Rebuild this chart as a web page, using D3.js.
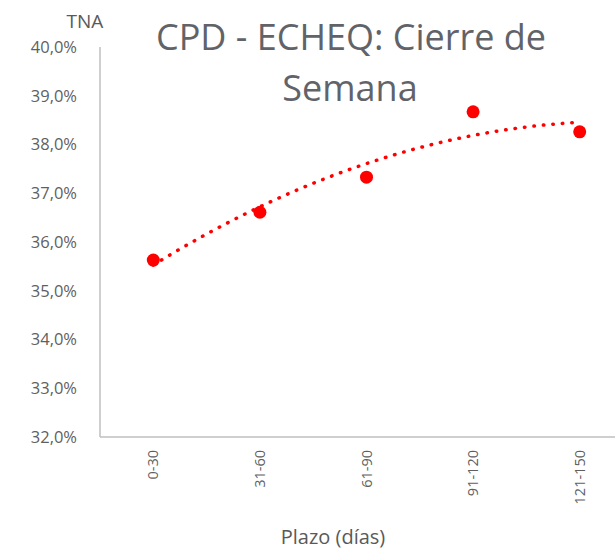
<!DOCTYPE html>
<html>
<head>
<meta charset="utf-8">
<script src="https://cdnjs.cloudflare.com/ajax/libs/d3/7.8.5/d3.min.js"></script>
<style>
  body { margin: 0; background: #fff; }
  svg { display: block; font-family: "Open Sans", sans-serif; }
</style>
</head>
<body>
<div id="chart"></div>
<script>
var plazos = ["0-30", "31-60", "61-90", "91-120", "121-150"];
var tna = [35.63, 36.61, 37.33, 38.67, 38.26];
var yTicks = [32, 33, 34, 35, 36, 37, 38, 39, 40];

var svgWidth = 615;
var svgHeight = 550;
var margin = { top: 47, left: 100, bottom: 113 };
var plotRight = 633;

var svg = d3.select("#chart")
  .append("svg")
  .attr("width", svgWidth)
  .attr("height", svgHeight);

var x = d3.scaleBand()
  .domain(plazos)
  .range([margin.left, plotRight]);

var y = d3.scaleLinear()
  .domain([32, 40])
  .range([svgHeight - margin.bottom, margin.top]);

// axis lines
svg.append("line")
  .attr("x1", margin.left).attr("x2", margin.left)
  .attr("y1", y(40)).attr("y2", y(32))
  .attr("stroke", "#bfbfbf").attr("stroke-width", 1.5);

svg.append("line")
  .attr("x1", margin.left).attr("x2", plotRight)
  .attr("y1", y(32)).attr("y2", y(32))
  .attr("stroke", "#bfbfbf").attr("stroke-width", 1.5);

// y tick labels
svg.selectAll(".ytick")
  .data(yTicks)
  .enter()
  .append("text")
  .attr("class", "ytick")
  .attr("x", 77)
  .attr("y", function(d) { return y(d); })
  .attr("dy", "0.35em")
  .attr("text-anchor", "end")
  .style("font-size", "16.5px")
  .style("fill", "#5f5f5f")
  .text(function(d) { return d3.format(".1f")(d).replace(".", ",") + "%"; });

// x tick labels, rotated
svg.selectAll(".xtick")
  .data(plazos)
  .enter()
  .append("text")
  .attr("class", "xtick")
  .attr("transform", function(d) {
    return "translate(" + (x(d) + x.bandwidth() / 2) + "," + 450 + ") rotate(-90)";
  })
  .attr("dy", "0.35em")
  .attr("text-anchor", "end")
  .style("font-size", "14.5px")
  .style("fill", "#5f5f5f")
  .text(function(d) { return d; });

// quadratic trend line (least squares on category index)
var n = tna.length;
var sx = [0, 0, 0, 0, 0], sxy = [0, 0, 0];
tna.forEach(function(v, i) {
  var t = i + 1;
  for (var k = 0; k < 5; k++) sx[k] += Math.pow(t, k);
  for (var k = 0; k < 3; k++) sxy[k] += v * Math.pow(t, k);
});
function det3(m) {
  return m[0][0] * (m[1][1] * m[2][2] - m[1][2] * m[2][1]) -
    m[0][1] * (m[1][0] * m[2][2] - m[1][2] * m[2][0]) +
    m[0][2] * (m[1][0] * m[2][1] - m[1][1] * m[2][0]);
}
var M = [[sx[0], sx[1], sx[2]], [sx[1], sx[2], sx[3]], [sx[2], sx[3], sx[4]]];
var D = det3(M);
var coef = [0, 1, 2].map(function(c) {
  var Mc = M.map(function(row, r) {
    return row.map(function(val, j) { return j === c ? sxy[r] : val; });
  });
  return det3(Mc) / D;
});
var trend = d3.range(1, n + 0.001, 0.05).map(function(t) {
  return { t: t, v: coef[0] + coef[1] * t + coef[2] * t * t };
});

var step = x.step();
var tx = function(t) { return x(plazos[0]) + x.bandwidth() / 2 + (t - 1) * step; };

svg.append("path")
  .datum(trend)
  .attr("fill", "none")
  .attr("stroke", "#ff0000")
  .attr("stroke-width", 3.5)
  .attr("stroke-linecap", "round")
  .attr("stroke-dasharray", "0.5 9")
  .attr("d", d3.line()
    .x(function(d) { return tx(d.t); })
    .y(function(d) { return y(d.v); }));

// markers
svg.selectAll(".dot")
  .data(tna)
  .enter()
  .append("circle")
  .attr("class", "dot")
  .attr("cx", function(d, i) { return x(plazos[i]) + x.bandwidth() / 2; })
  .attr("cy", function(d) { return y(d); })
  .attr("r", 6.5)
  .attr("fill", "#ff0000");

// titles
svg.append("text")
  .attr("x", 85)
  .attr("y", 28)
  .attr("text-anchor", "middle")
  .style("font-size", "19px")
  .style("fill", "#595959")
  .text("TNA");

var title = svg.append("text")
  .attr("text-anchor", "middle")
  .style("font-size", "36px")
  .style("fill", "#616369");
title.append("tspan").attr("x", 351).attr("y", 50).text("CPD - ECHEQ: Cierre de");
title.append("tspan").attr("x", 350).attr("y", 101).text("Semana");

svg.append("text")
  .attr("x", 333)
  .attr("y", 544)
  .attr("text-anchor", "middle")
  .style("font-size", "20px")
  .style("fill", "#595959")
  .text("Plazo (días)");
</script>
</body>
</html>
